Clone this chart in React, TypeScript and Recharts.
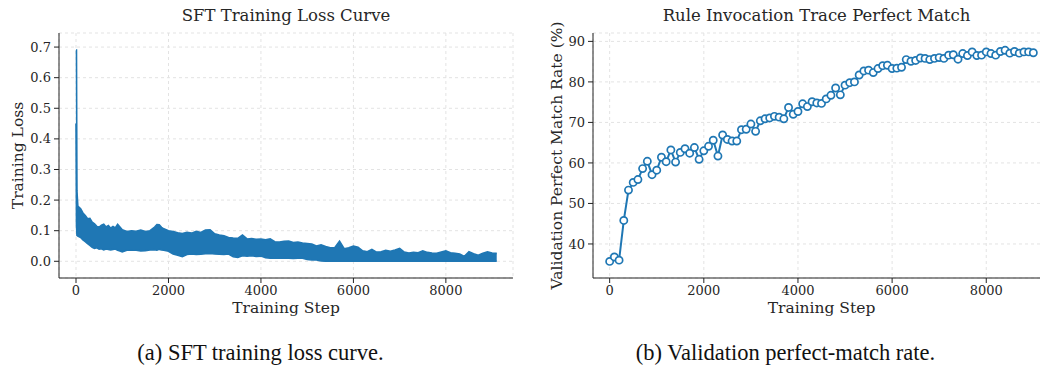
import React from "react";
import {
  ComposedChart,
  Area,
  Line,
  XAxis,
  YAxis,
  CartesianGrid,
} from "recharts";

// ---------- (a) SFT training loss: noisy band (low/high envelope) ----------
const lossSteps = [
  0, 10, 20, 40, 100, 150, 200, 250, 300, 350, 400, 450, 500, 550, 600, 650, 700,
  750, 800, 850, 900, 950, 1000, 1100, 1200, 1300, 1400, 1500, 1600, 1700, 1750,
  1800, 1850, 1900, 2000, 2100, 2200, 2300, 2400, 2500, 2600, 2700, 2800, 2900,
  3000, 3100, 3200, 3300, 3400, 3500, 3600, 3700, 3800, 3900, 4000, 4100, 4200,
  4300, 4400, 4500, 4600, 4700, 4800, 4900, 5000, 5100, 5200, 5300, 5400, 5500,
  5600, 5700, 5800, 5900, 6000, 6100, 6200, 6300, 6400, 6500, 6600, 6700, 6800,
  6900, 7000, 7100, 7200, 7300, 7400, 7500, 7600, 7700, 7800, 7900, 8000, 8100,
  8200, 8300, 8400, 8500, 8600, 8700, 8800, 8900, 9000, 9100,
];
const lossHigh = [
  0.69, 0.69, 0.23, 0.18, 0.172, 0.158, 0.15, 0.139, 0.14, 0.128, 0.122, 0.114,
  0.112, 0.118, 0.121, 0.112, 0.117, 0.108, 0.114, 0.109, 0.121, 0.112, 0.103,
  0.097, 0.1, 0.098, 0.102, 0.097, 0.1, 0.112, 0.12, 0.119, 0.111, 0.106, 0.1,
  0.097, 0.093, 0.091, 0.095, 0.092, 0.098, 0.094, 0.102, 0.103, 0.09, 0.086,
  0.083, 0.078, 0.076, 0.075, 0.086, 0.073, 0.074, 0.072, 0.073, 0.07, 0.073,
  0.064, 0.063, 0.065, 0.066, 0.061, 0.063, 0.06, 0.058, 0.056, 0.05, 0.054,
  0.048, 0.044, 0.045, 0.066, 0.041, 0.044, 0.05, 0.046, 0.034, 0.031, 0.039,
  0.03, 0.031, 0.036, 0.033, 0.037, 0.042, 0.03, 0.027, 0.029, 0.028, 0.034,
  0.029, 0.027, 0.026, 0.03, 0.034, 0.028, 0.026, 0.024, 0.016, 0.031, 0.025,
  0.02, 0.026, 0.031, 0.027, 0.026,
];
const lossLow = [
  0.45, 0.12, 0.085, 0.082, 0.078, 0.07, 0.064, 0.058, 0.052, 0.046, 0.042,
  0.044, 0.04, 0.041, 0.037, 0.04, 0.039, 0.037, 0.039, 0.04, 0.036, 0.034,
  0.031, 0.036, 0.037, 0.036, 0.034, 0.035, 0.037, 0.038, 0.036, 0.039, 0.037,
  0.036, 0.033, 0.024, 0.02, 0.015, 0.022, 0.024, 0.022, 0.023, 0.025, 0.026,
  0.024, 0.023, 0.022, 0.024, 0.015, 0.013, 0.018, 0.017, 0.018, 0.016, 0.017,
  0.012, 0.01, 0.011, 0.01, 0.011, 0.01, 0.009, 0.01, 0.01, 0.006, 0.004, 0.004,
  0.001, 0.0, 0.001, 0.0, 0.001, 0.0, 0.001, 0.0, 0.0, 0.001, 0.0, 0.0, 0.001,
  0.0, 0.0, 0.001, 0.0, 0.0, 0.0, 0.001, 0.0, 0.0, 0.0, 0.001, 0.0, 0.0, 0.0,
  0.001, 0.0, 0.0, 0.0, 0.0, 0.001, 0.0, 0.0, 0.0, 0.0, 0.0, 0.0,
];
const lossXTicks = [0, 2000, 4000, 6000, 8000];
const lossYTicks = [0, 0.1, 0.2, 0.3, 0.4, 0.5, 0.6, 0.7];

// ---------- (b) validation perfect-match rate ----------
const valSteps = [
  0, 100, 200, 300, 400, 500, 600, 700, 800, 900, 1000, 1100, 1200, 1300, 1400,
  1500, 1600, 1700, 1800, 1900, 2000, 2100, 2200, 2300, 2400, 2500, 2600, 2700,
  2800, 2900, 3000, 3100, 3200, 3300, 3400, 3500, 3600, 3700, 3800, 3900, 4000,
  4100, 4200, 4300, 4400, 4500, 4600, 4700, 4800, 4900, 5000, 5100, 5200, 5300,
  5400, 5500, 5600, 5700, 5800, 5900, 6000, 6100, 6200, 6300, 6400, 6500, 6600,
  6700, 6800, 6900, 7000, 7100, 7200, 7300, 7400, 7500, 7600, 7700, 7800, 7900,
  8000, 8100, 8200, 8300, 8400, 8500, 8600, 8700, 8800, 8900, 9000,
];
const valRate = [
  35.7, 36.8, 36.0, 45.8, 53.3, 55.2, 55.9, 58.6, 60.4, 57.1, 58.2, 61.4, 60.3,
  63.2, 60.2, 62.6, 63.5, 62.4, 63.8, 60.9, 63.0, 64.1, 65.6, 61.7, 66.9, 65.8,
  65.4, 65.4, 68.2, 68.3, 69.6, 67.8, 70.4, 70.9, 71.1, 71.5, 71.3, 70.9, 73.7,
  72.0, 72.7, 74.6, 73.9, 75.1, 74.8, 74.7, 75.8, 76.7, 78.5, 76.8, 79.2, 79.8,
  80.0, 81.7, 82.7, 82.9, 82.3, 83.3, 84.0, 84.1, 83.3, 83.4, 83.6, 85.5, 85.1,
  85.3, 85.9, 85.8, 85.5, 85.8, 86.0, 85.8, 86.6, 86.7, 85.6, 87.0, 86.5, 87.4,
  86.5, 86.6, 87.4, 87.0, 86.6, 87.5, 87.8, 87.1, 87.5, 87.1, 87.4, 87.4, 87.2,
];
const valXTicks = [0, 2000, 4000, 6000, 8000];
const valYTicks = [40, 50, 60, 70, 80, 90];

const lossData = lossSteps.map((s, i) => ({
  step: s,
  band: [lossLow[i], lossHigh[i]],
}));
const valData = valSteps.map((s, i) => ({ step: s, rate: valRate[i] }));

const BLUE = "#1f77b4";
const SERIF = "'DejaVu Serif', serif";
const AXIS = "#222222";
const tickStyle = { fontSize: 13, fill: "#262626", fontFamily: SERIF };
const labelStyle = { fontSize: 15.5, fill: "#262626", fontFamily: SERIF };
const CAPTION = "'Liberation Serif', 'Times New Roman', serif";

export default function App() {
  return (
    <div
      style={{
        position: "fixed",
        left: 0,
        top: 0,
        width: 1040,
        height: 366,
        overflow: "hidden",
        background: "#ffffff",
      }}
    >
      {/* Titles */}
      <div
        style={{
          position: "absolute",
          left: 59,
          width: 454,
          top: 5,
          textAlign: "center",
          fontFamily: SERIF,
          fontSize: 16.5,
          color: "#262626",
          lineHeight: "22px",
        }}
      >
        SFT Training Loss Curve
      </div>
      <div
        style={{
          position: "absolute",
          left: 593,
          width: 447,
          top: 5,
          paddingRight: 10,
          boxSizing: "content-box",
          textAlign: "center",
          fontFamily: SERIF,
          fontSize: 16.5,
          color: "#262626",
          lineHeight: "22px",
        }}
      >
        Rule Invocation Trace Perfect Match
      </div>

      {/* (a) loss chart */}
      <div style={{ position: "absolute", left: 0, top: 0 }}>
        <ComposedChart
          width={520}
          height={330}
          data={lossData}
          margin={{ top: 33, right: 7, bottom: 12, left: 0 }}
        >
          <CartesianGrid stroke="#e3e3e3" strokeDasharray="3 3" />
          <XAxis
            dataKey="step"
            type="number"
            domain={[-368, 9452]}
            ticks={lossXTicks}
            height={40}
            tickSize={5}
            tickMargin={3}
            tick={tickStyle}
            stroke={AXIS}
            label={{
              value: "Training Step",
              position: "insideBottom",
              offset: 5,
              style: labelStyle,
            }}
          />
          <YAxis
            type="number"
            domain={[-0.0546, 0.746]}
            ticks={lossYTicks}
            width={59}
            tickSize={5}
            tickMargin={3}
            tick={tickStyle}
            stroke={AXIS}
            tickFormatter={(v: number) => v.toFixed(1)}
            label={{
              value: "Training Loss",
              angle: -90,
              position: "insideLeft",
              offset: 17,
              style: { ...labelStyle, textAnchor: "middle" },
            }}
          />
          <Area
            dataKey="band"
            type="linear"
            stroke={BLUE}
            strokeWidth={1.6}
            strokeLinejoin="miter"
            fill={BLUE}
            fillOpacity={1}
            isAnimationActive={false}
            dot={false}
            activeDot={false}
          />
        </ComposedChart>
      </div>

      {/* (b) validation chart */}
      <div style={{ position: "absolute", left: 520, top: 0 }}>
        <ComposedChart
          width={530}
          height={330}
          data={valData}
          margin={{ top: 33, right: 0, bottom: 12, left: 0 }}
        >
          <CartesianGrid stroke="#e3e3e3" strokeDasharray="3 3" />
          <XAxis
            dataKey="step"
            type="number"
            domain={[-354, 9354]}
            ticks={valXTicks}
            height={40}
            tickSize={5}
            tickMargin={3}
            tick={tickStyle}
            stroke={AXIS}
            label={{
              value: "Training Step",
              position: "insideBottom",
              offset: 5,
              style: labelStyle,
            }}
          />
          <YAxis
            type="number"
            domain={[31.6, 92.07]}
            ticks={valYTicks}
            width={73}
            tickSize={5}
            tickMargin={3}
            tick={tickStyle}
            stroke={AXIS}
            label={{
              value: "Validation Perfect Match Rate (%)",
              angle: -90,
              position: "insideLeft",
              offset: 36,
              style: { ...labelStyle, textAnchor: "middle" },
            }}
          />
          <Line
            dataKey="rate"
            type="linear"
            stroke={BLUE}
            strokeWidth={2}
            dot={{ r: 3.6, stroke: BLUE, strokeWidth: 1.7, fill: "#ffffff" }}
            activeDot={false}
            isAnimationActive={false}
          />
        </ComposedChart>
      </div>

      {/* Captions */}
      <div
        style={{
          position: "absolute",
          left: 0,
          width: 521,
          top: 340,
          textAlign: "center",
          fontFamily: CAPTION,
          fontSize: 22.5,
          color: "#111",
          lineHeight: "25px",
          whiteSpace: "nowrap",
        }}
      >
        (a) SFT training loss curve.
      </div>
      <div
        style={{
          position: "absolute",
          left: 531,
          width: 509,
          top: 340,
          textAlign: "center",
          fontFamily: CAPTION,
          fontSize: 22.5,
          color: "#111",
          lineHeight: "25px",
          whiteSpace: "nowrap",
          paddingRight: 11,
          boxSizing: "content-box",
        }}
      >
        (b) Validation perfect-match rate.
      </div>
    </div>
  );
}
